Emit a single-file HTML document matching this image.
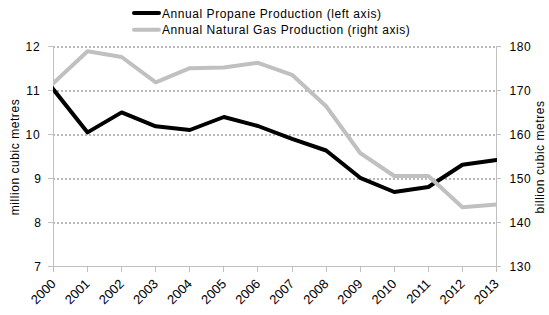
<!DOCTYPE html>
<html><head><meta charset="utf-8"><style>
html,body{margin:0;padding:0;background:#fff;width:549px;height:315px;overflow:hidden}
svg{display:block}
text{font-family:"Liberation Sans", sans-serif;font-size:12px;fill:#000}
</style></head><body>
<svg width="549" height="315" viewBox="0 0 549 315">
<line x1="54" y1="47" x2="496" y2="47" stroke="#b8b8b8" stroke-width="2" stroke-dasharray="2 2" stroke-dashoffset="-3"/>
<line x1="54" y1="91" x2="496" y2="91" stroke="#b8b8b8" stroke-width="2" stroke-dasharray="2 2" stroke-dashoffset="-3"/>
<line x1="54" y1="135" x2="496" y2="135" stroke="#b8b8b8" stroke-width="2" stroke-dasharray="2 2" stroke-dashoffset="-3"/>
<line x1="54" y1="179" x2="496" y2="179" stroke="#b8b8b8" stroke-width="2" stroke-dasharray="2 2" stroke-dashoffset="-3"/>
<line x1="54" y1="223" x2="496" y2="223" stroke="#b8b8b8" stroke-width="2" stroke-dasharray="2 2" stroke-dashoffset="-3"/>
<line x1="53.5" y1="46" x2="53.5" y2="267" stroke="#c0c0c0" stroke-width="1"/>
<line x1="496.5" y1="46" x2="496.5" y2="267" stroke="#c0c0c0" stroke-width="1"/>
<line x1="53" y1="266.5" x2="497" y2="266.5" stroke="#c0c0c0" stroke-width="1"/>
<line x1="48" y1="46.5" x2="53" y2="46.5" stroke="#c0c0c0" stroke-width="1"/>
<line x1="497" y1="46.5" x2="501" y2="46.5" stroke="#c0c0c0" stroke-width="1"/>
<line x1="48" y1="90.5" x2="53" y2="90.5" stroke="#c0c0c0" stroke-width="1"/>
<line x1="497" y1="90.5" x2="501" y2="90.5" stroke="#c0c0c0" stroke-width="1"/>
<line x1="48" y1="134.5" x2="53" y2="134.5" stroke="#c0c0c0" stroke-width="1"/>
<line x1="497" y1="134.5" x2="501" y2="134.5" stroke="#c0c0c0" stroke-width="1"/>
<line x1="48" y1="178.5" x2="53" y2="178.5" stroke="#c0c0c0" stroke-width="1"/>
<line x1="497" y1="178.5" x2="501" y2="178.5" stroke="#c0c0c0" stroke-width="1"/>
<line x1="48" y1="222.5" x2="53" y2="222.5" stroke="#c0c0c0" stroke-width="1"/>
<line x1="497" y1="222.5" x2="501" y2="222.5" stroke="#c0c0c0" stroke-width="1"/>
<line x1="48" y1="266.5" x2="53" y2="266.5" stroke="#c0c0c0" stroke-width="1"/>
<line x1="497" y1="266.5" x2="501" y2="266.5" stroke="#c0c0c0" stroke-width="1"/>
<line x1="53.5" y1="267" x2="53.5" y2="272" stroke="#c0c0c0" stroke-width="1"/>
<line x1="87.5" y1="267" x2="87.5" y2="272" stroke="#c0c0c0" stroke-width="1"/>
<line x1="121.5" y1="267" x2="121.5" y2="272" stroke="#c0c0c0" stroke-width="1"/>
<line x1="155.5" y1="267" x2="155.5" y2="272" stroke="#c0c0c0" stroke-width="1"/>
<line x1="189.5" y1="267" x2="189.5" y2="272" stroke="#c0c0c0" stroke-width="1"/>
<line x1="223.5" y1="267" x2="223.5" y2="272" stroke="#c0c0c0" stroke-width="1"/>
<line x1="257.5" y1="267" x2="257.5" y2="272" stroke="#c0c0c0" stroke-width="1"/>
<line x1="292.5" y1="267" x2="292.5" y2="272" stroke="#c0c0c0" stroke-width="1"/>
<line x1="326.5" y1="267" x2="326.5" y2="272" stroke="#c0c0c0" stroke-width="1"/>
<line x1="360.5" y1="267" x2="360.5" y2="272" stroke="#c0c0c0" stroke-width="1"/>
<line x1="394.5" y1="267" x2="394.5" y2="272" stroke="#c0c0c0" stroke-width="1"/>
<line x1="428.5" y1="267" x2="428.5" y2="272" stroke="#c0c0c0" stroke-width="1"/>
<line x1="462.5" y1="267" x2="462.5" y2="272" stroke="#c0c0c0" stroke-width="1"/>
<line x1="496.5" y1="267" x2="496.5" y2="272" stroke="#c0c0c0" stroke-width="1"/>
<defs><clipPath id="pc"><rect x="53" y="0" width="444" height="315"/></clipPath></defs>
<polyline clip-path="url(#pc)" points="48.52,83.34 53.50,89.60 87.58,132.40 121.65,112.40 155.73,126.30 189.81,130.00 223.88,117.00 257.96,126.00 292.04,138.80 326.12,150.50 360.19,177.80 394.27,192.00 428.35,187.00 462.42,164.80 496.50,160.00 504.42,158.88" fill="none" stroke="#000" stroke-width="4" stroke-linejoin="round" stroke-linecap="butt"/>
<polyline clip-path="url(#pc)" points="47.64,88.45 53.50,83.00 87.58,51.30 121.65,57.00 155.73,82.30 189.81,68.20 223.88,67.50 257.96,62.80 292.04,74.80 326.12,106.20 360.19,153.00 394.27,176.00 428.35,176.00 462.42,207.20 496.50,204.40 504.47,203.74" fill="none" stroke="#c0c0c0" stroke-width="4" stroke-linejoin="round" stroke-linecap="butt"/>
<text transform="translate(40.4,50.8)" letter-spacing="0.8" text-anchor="end">12</text>
<text transform="translate(40.4,94.8)" letter-spacing="0.8" text-anchor="end">11</text>
<text transform="translate(40.4,138.8)" letter-spacing="0.8" text-anchor="end">10</text>
<text transform="translate(41.8,182.8)" letter-spacing="0.8" text-anchor="end">9</text>
<text transform="translate(41.8,226.8)" letter-spacing="0.8" text-anchor="end">8</text>
<text transform="translate(41.8,270.8)" letter-spacing="0.8" text-anchor="end">7</text>
<text transform="translate(509.5,50.8)" letter-spacing="0.6">180</text>
<text transform="translate(509.5,94.8)" letter-spacing="0.6">170</text>
<text transform="translate(509.5,138.8)" letter-spacing="0.6">160</text>
<text transform="translate(509.5,182.8)" letter-spacing="0.6">150</text>
<text transform="translate(509.5,226.8)" letter-spacing="0.6">140</text>
<text transform="translate(509.5,270.8)" letter-spacing="0.6">130</text>
<text transform="translate(53.80,281.7) rotate(-45) scale(1.0,1)" text-anchor="end" y="4" style="font-size:13px">2000</text>
<text transform="translate(87.88,281.7) rotate(-45) scale(1.0,1)" text-anchor="end" y="4" style="font-size:13px">2001</text>
<text transform="translate(121.95,281.7) rotate(-45) scale(1.0,1)" text-anchor="end" y="4" style="font-size:13px">2002</text>
<text transform="translate(156.03,281.7) rotate(-45) scale(1.0,1)" text-anchor="end" y="4" style="font-size:13px">2003</text>
<text transform="translate(190.11,281.7) rotate(-45) scale(1.0,1)" text-anchor="end" y="4" style="font-size:13px">2004</text>
<text transform="translate(224.18,281.7) rotate(-45) scale(1.0,1)" text-anchor="end" y="4" style="font-size:13px">2005</text>
<text transform="translate(258.26,281.7) rotate(-45) scale(1.0,1)" text-anchor="end" y="4" style="font-size:13px">2006</text>
<text transform="translate(292.34,281.7) rotate(-45) scale(1.0,1)" text-anchor="end" y="4" style="font-size:13px">2007</text>
<text transform="translate(326.42,281.7) rotate(-45) scale(1.0,1)" text-anchor="end" y="4" style="font-size:13px">2008</text>
<text transform="translate(360.49,281.7) rotate(-45) scale(1.0,1)" text-anchor="end" y="4" style="font-size:13px">2009</text>
<text transform="translate(394.57,281.7) rotate(-45) scale(1.0,1)" text-anchor="end" y="4" style="font-size:13px">2010</text>
<text transform="translate(428.65,281.7) rotate(-45) scale(1.0,1)" text-anchor="end" y="4" style="font-size:13px">2011</text>
<text transform="translate(462.72,281.7) rotate(-45) scale(1.0,1)" text-anchor="end" y="4" style="font-size:13px">2012</text>
<text transform="translate(496.80,281.7) rotate(-45) scale(1.0,1)" text-anchor="end" y="4" style="font-size:13px">2013</text>
<text transform="translate(19,157) rotate(-90)" letter-spacing="0.55" text-anchor="middle">million cubic metres</text>
<text transform="translate(544,157) rotate(-90)" letter-spacing="0.55" text-anchor="middle">billion cubic metres</text>
<line x1="134" y1="13" x2="159" y2="13" stroke="#000" stroke-width="4" stroke-linecap="round"/>
<line x1="134" y1="29.8" x2="159" y2="29.8" stroke="#c0c0c0" stroke-width="4" stroke-linecap="round"/>
<text transform="translate(162,17.5) " letter-spacing="0.56">Annual Propane Production (left axis)</text>
<text transform="translate(162,33.5) " letter-spacing="0.56">Annual Natural Gas Production (right axis)</text>
</svg>
</body></html>
